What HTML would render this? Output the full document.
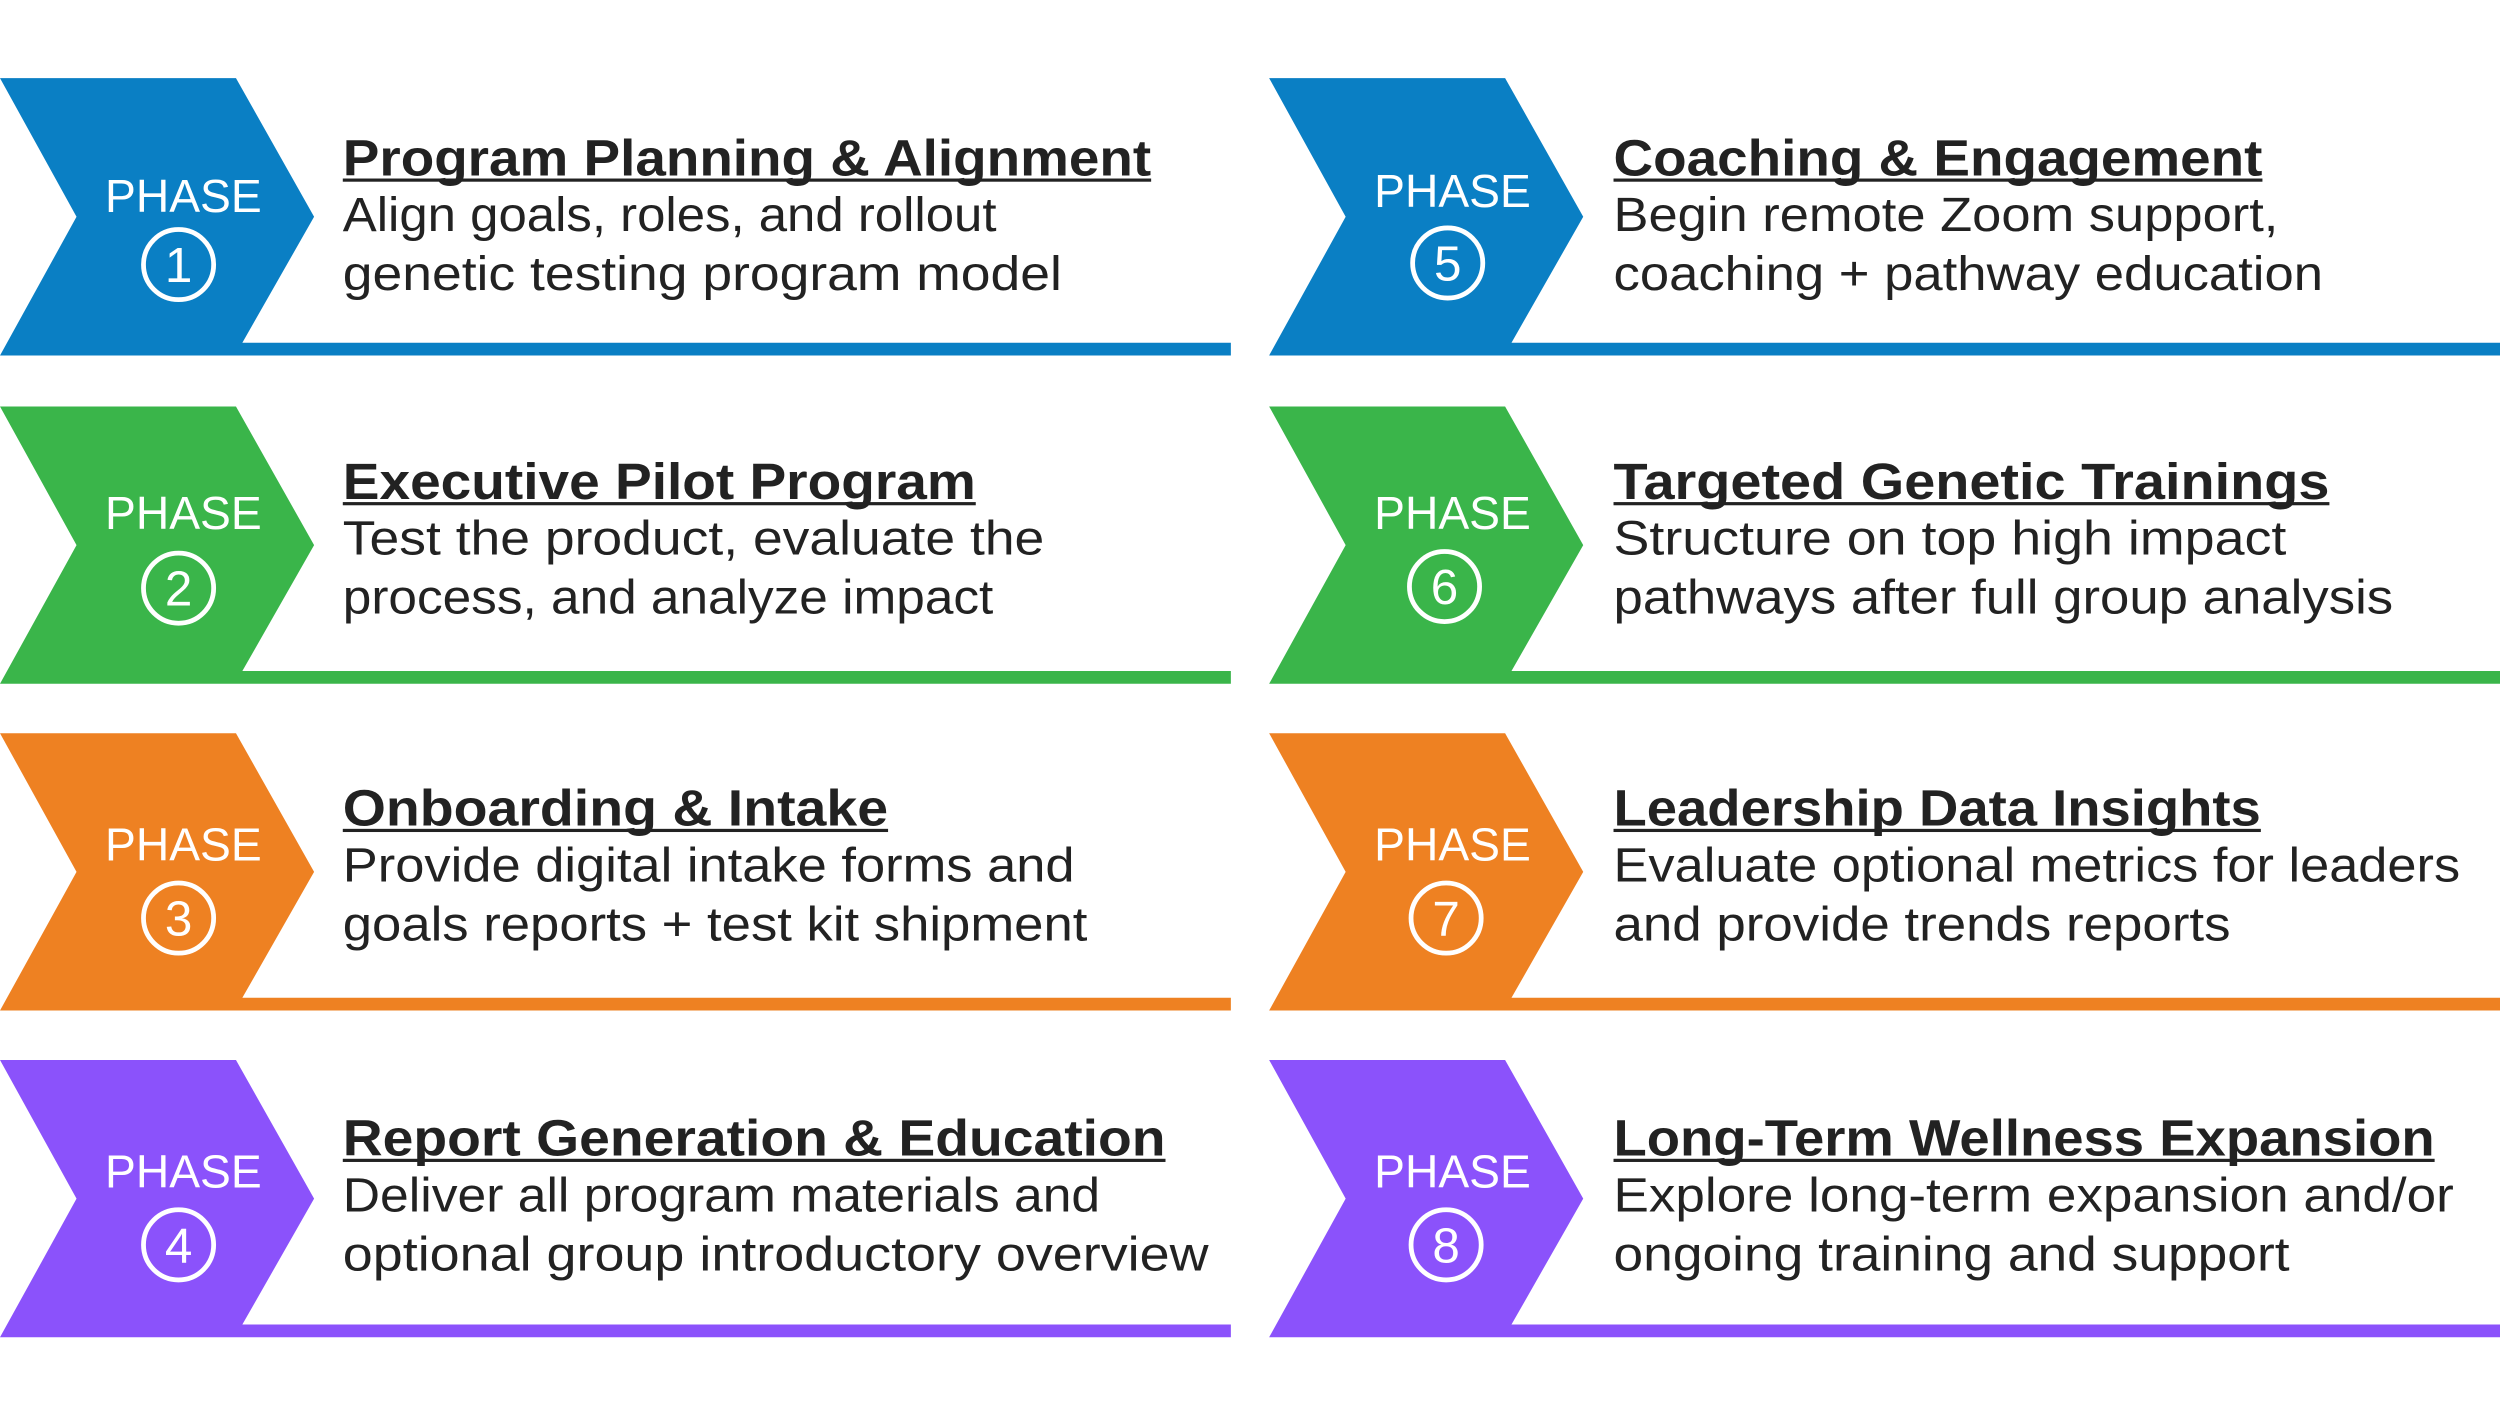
<!DOCTYPE html>
<html><head><meta charset="utf-8"><style>html,body{margin:0;padding:0;background:#fff}svg{display:block}</style></head>
<body>
<svg width="2500" height="1417" viewBox="0 0 1568 889" preserveAspectRatio="none" xmlns="http://www.w3.org/2000/svg" font-family="Liberation Sans, sans-serif">
<defs>
<g id="chev">
<polygon points="0,0 148,0 197,87 152,166 772,166 772,174 0,174 48,87"/>
</g>
</defs>
<!-- Row 1 -->
<g transform="translate(0,49)" fill="#0a7fc4"><use href="#chev"/></g>
<g transform="translate(796,49)" fill="#0a7fc4"><use href="#chev"/></g>
<g transform="translate(0,255)" fill="#3ab54a"><use href="#chev"/></g>
<g transform="translate(796,255)" fill="#3ab54a"><use href="#chev"/></g>
<g transform="translate(0,460)" fill="#ee8122"><use href="#chev"/></g>
<g transform="translate(796,460)" fill="#ee8122"><use href="#chev"/></g>
<g transform="translate(0,665)" fill="#8b52fb"><use href="#chev"/></g>
<g transform="translate(796,665)" fill="#8b52fb"><use href="#chev"/></g>

<g fill="#fff" font-size="29" text-anchor="middle">
<text x="115" y="133">PHASE</text><text x="911" y="130">PHASE</text>
<text x="115" y="332">PHASE</text><text x="911" y="332">PHASE</text>
<text x="115" y="540">PHASE</text><text x="911" y="540">PHASE</text>
<text x="115" y="745">PHASE</text><text x="911" y="745">PHASE</text>
</g>
<g fill="none" stroke="#fff" stroke-width="3">
<circle cx="112" cy="166" r="22"/><circle cx="908" cy="165" r="22"/>
<circle cx="112" cy="369" r="22"/><circle cx="906" cy="368" r="22"/>
<circle cx="112" cy="576" r="22"/><circle cx="907" cy="576" r="22"/>
<circle cx="112" cy="781" r="22"/><circle cx="907" cy="781" r="22"/>
</g>
<g fill="#fff" font-size="31" text-anchor="middle">
<text x="112" y="177">1</text><text x="908" y="176">5</text>
<text x="112" y="380">2</text><text x="906" y="379">6</text>
<text x="112" y="587">3</text><text x="907" y="587">7</text>
<text x="112" y="792">4</text><text x="907" y="792">8</text>
</g>

<g fill="#222" font-size="32" font-weight="bold" lengthAdjust="spacingAndGlyphs">
<text x="215" y="110" textLength="507" lengthAdjust="spacingAndGlyphs">Program Planning &amp; Alignment</text>
<text x="215" y="313" textLength="397" lengthAdjust="spacingAndGlyphs">Executive Pilot Program</text>
<text x="215" y="518" textLength="342" lengthAdjust="spacingAndGlyphs">Onboarding &amp; Intake</text>
<text x="215" y="725" textLength="516" lengthAdjust="spacingAndGlyphs">Report Generation &amp; Education</text>
<text x="1012" y="110" textLength="407" lengthAdjust="spacingAndGlyphs">Coaching &amp; Engagement</text>
<text x="1012" y="313" textLength="449" lengthAdjust="spacingAndGlyphs">Targeted Genetic Trainings</text>
<text x="1012" y="518" textLength="406" lengthAdjust="spacingAndGlyphs">Leadership Data Insights</text>
<text x="1012" y="725" textLength="515" lengthAdjust="spacingAndGlyphs">Long-Term Wellness Expansion</text>
</g>
<g fill="#222">
<rect x="215" y="112" width="507" height="2"/>
<rect x="215" y="315" width="397" height="2"/>
<rect x="215" y="520" width="342" height="2"/>
<rect x="215" y="727" width="516" height="2"/>
<rect x="1012" y="112" width="407" height="2"/>
<rect x="1012" y="315" width="449" height="2"/>
<rect x="1012" y="520" width="406" height="2"/>
<rect x="1012" y="727" width="515" height="2"/>
</g>
<g fill="#222" font-size="30">
<text x="215" y="145" textLength="410" lengthAdjust="spacingAndGlyphs">Align goals, roles, and rollout</text>
<text x="215" y="182" textLength="451" lengthAdjust="spacingAndGlyphs">genetic testing program model</text>
<text x="215" y="348" textLength="440" lengthAdjust="spacingAndGlyphs">Test the product, evaluate the</text>
<text x="215" y="385" textLength="408" lengthAdjust="spacingAndGlyphs">process, and analyze impact</text>
<text x="215" y="553" textLength="459" lengthAdjust="spacingAndGlyphs">Provide digital intake forms and</text>
<text x="215" y="590" textLength="467" lengthAdjust="spacingAndGlyphs">goals reports + test kit shipment</text>
<text x="215" y="760" textLength="475" lengthAdjust="spacingAndGlyphs">Deliver all program materials and</text>
<text x="215" y="797" textLength="543" lengthAdjust="spacingAndGlyphs">optional group introductory overview</text>
<text x="1012" y="145" textLength="417" lengthAdjust="spacingAndGlyphs">Begin remote Zoom support,</text>
<text x="1012" y="182" textLength="445" lengthAdjust="spacingAndGlyphs">coaching + pathway education</text>
<text x="1012" y="348" textLength="422" lengthAdjust="spacingAndGlyphs">Structure on top high impact</text>
<text x="1012" y="385" textLength="489" lengthAdjust="spacingAndGlyphs">pathways after full group analysis</text>
<text x="1012" y="553" textLength="531" lengthAdjust="spacingAndGlyphs">Evaluate optional metrics for leaders</text>
<text x="1012" y="590" textLength="387" lengthAdjust="spacingAndGlyphs">and provide trends reports</text>
<text x="1012" y="760" textLength="527" lengthAdjust="spacingAndGlyphs">Explore long-term expansion and/or</text>
<text x="1012" y="797" textLength="424" lengthAdjust="spacingAndGlyphs">ongoing training and support</text>
</g>
</svg>
</body></html>
